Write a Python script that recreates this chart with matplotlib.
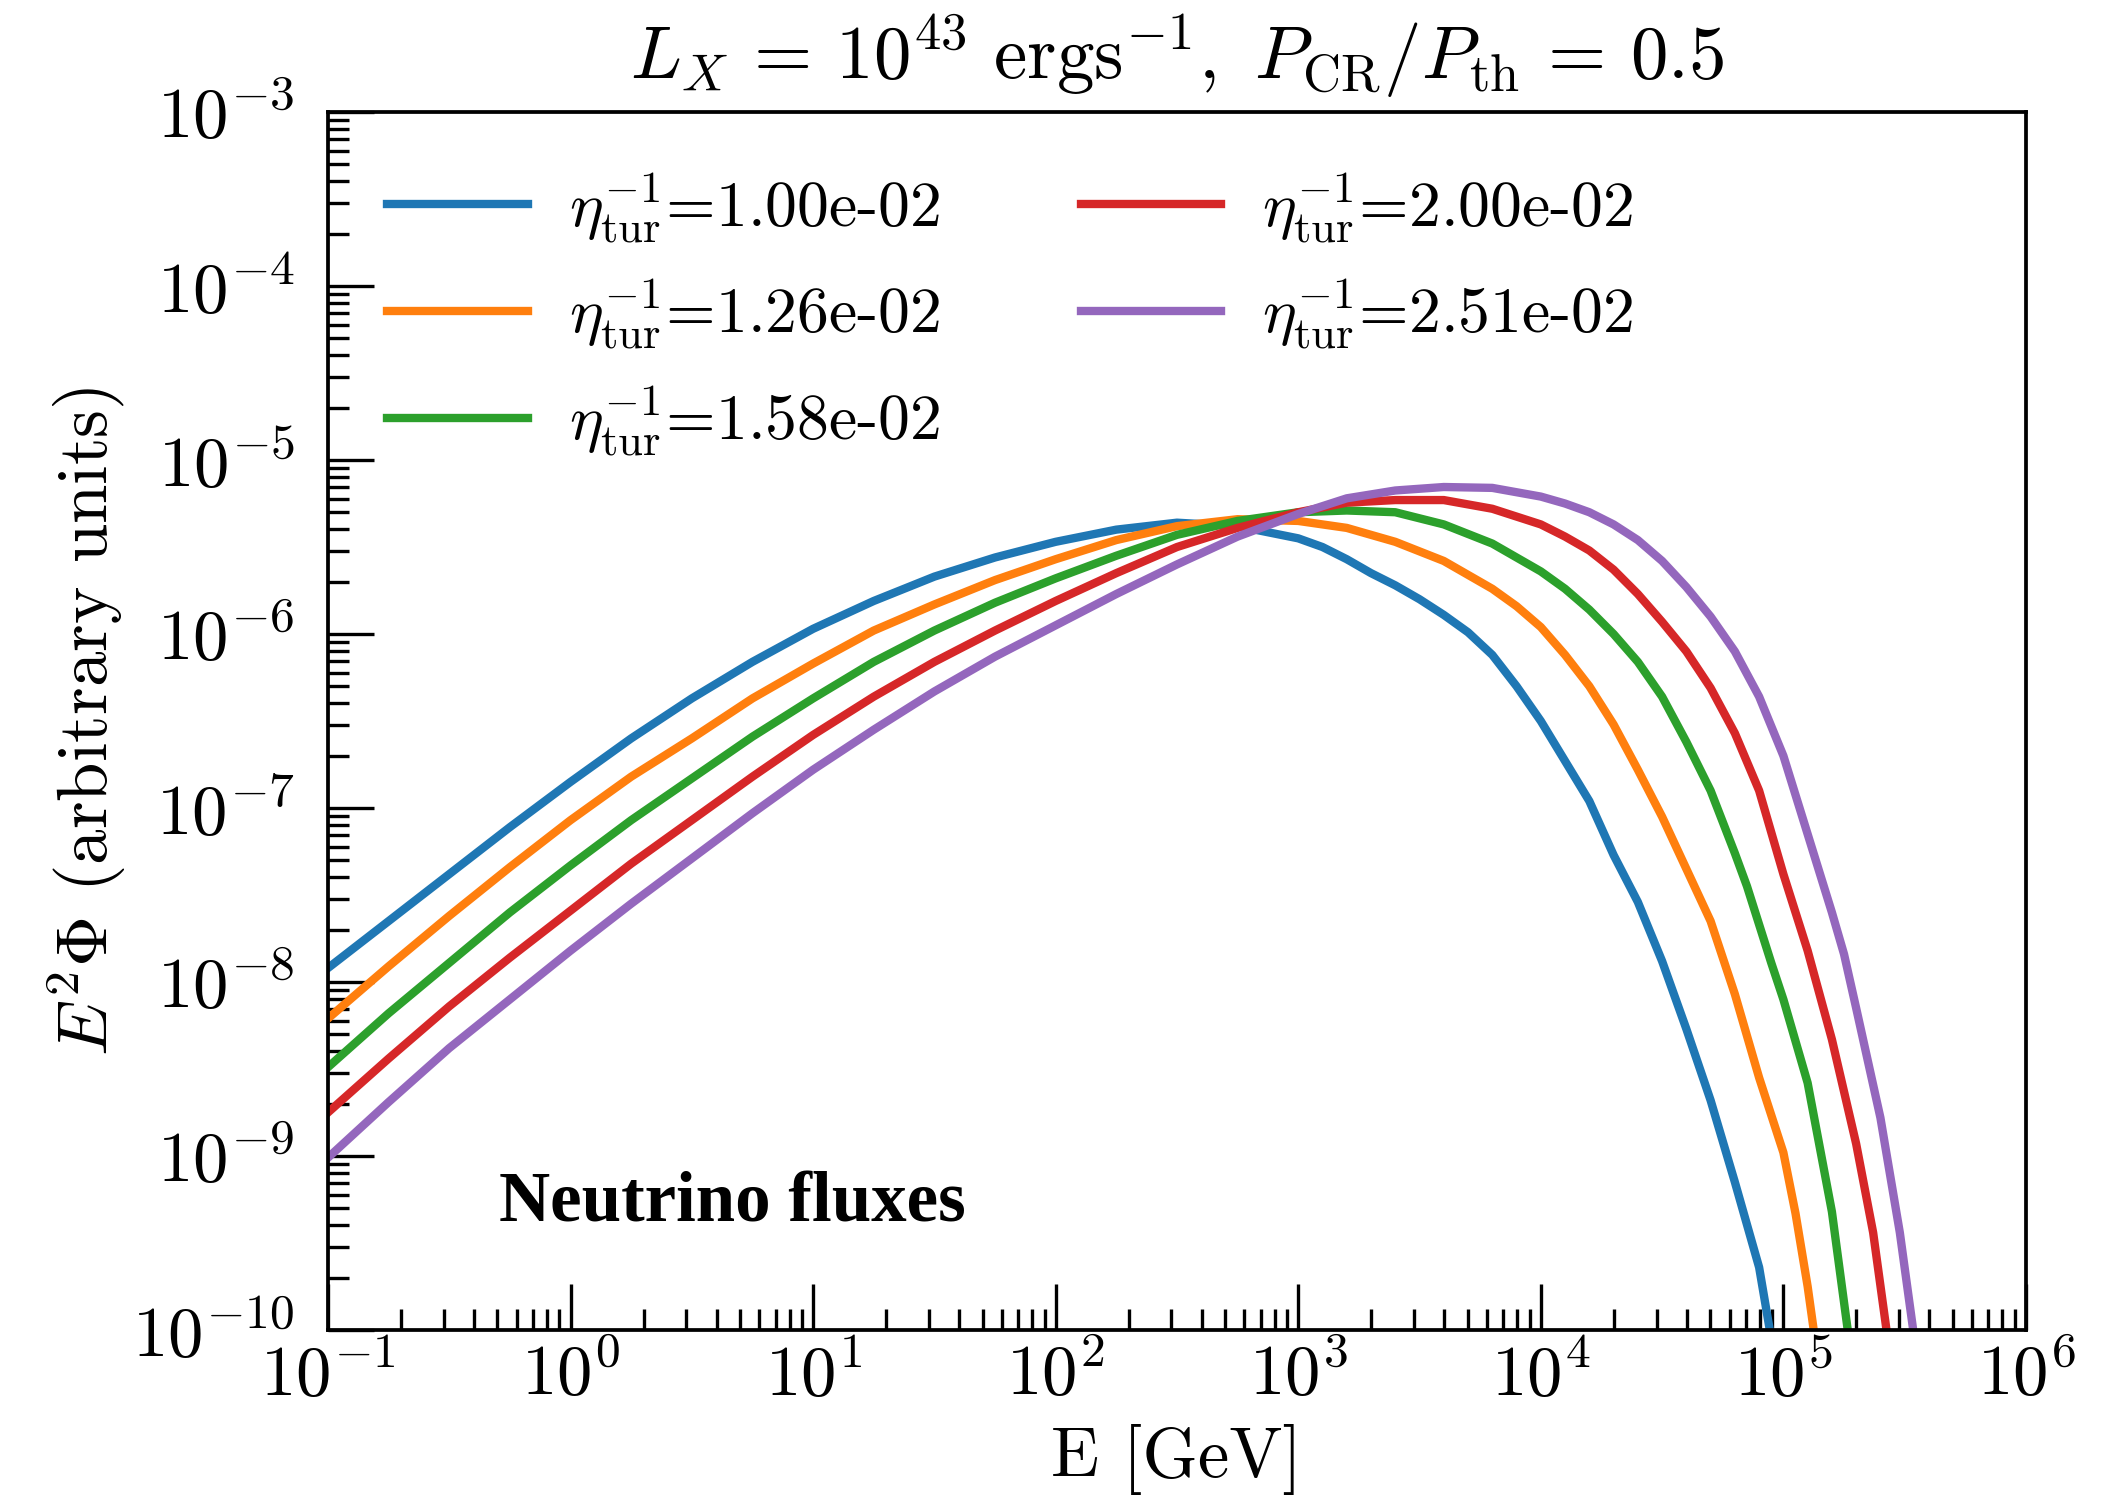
import numpy as np
import matplotlib
matplotlib.use("Agg")
import matplotlib.pyplot as plt

plt.rcParams['font.family'] = 'serif'
plt.rcParams['font.serif'] = ['cmr10']
plt.rcParams['mathtext.fontset'] = 'cm'
plt.rcParams['axes.formatter.use_mathtext'] = True
plt.rcParams['axes.unicode_minus'] = True

# log10(E/GeV) and log10(E^2 Phi) for each turbulence parameter
eta_inv = ['1.00e-02', '1.26e-02', '1.58e-02', '2.00e-02', '2.51e-02']
colors = ['#1f77b4', '#ff7f0e', '#2ca02c', '#d62728', '#9467bd']

# common grid for the rising part of the spectra
logE_low = [-1.0, -0.75, -0.5, -0.25, 0.0, 0.25, 0.5, 0.75, 1.0, 1.25, 1.5, 1.75,
            2.0, 2.25, 2.5, 2.75, 3.0]

logE_1 = logE_low + [3.1, 3.2, 3.3, 3.4, 3.5, 3.6, 3.7, 3.8, 3.9, 4.0, 4.1, 4.2,
                     4.3, 4.4, 4.5, 4.6, 4.7, 4.8, 4.9, 4.95]
logF_1 = [-7.92, -7.65, -7.38, -7.11, -6.85, -6.60, -6.37, -6.16, -5.97, -5.81,
          -5.67, -5.56, -5.47, -5.40, -5.36, -5.38, -5.45,
          -5.50, -5.57, -5.65, -5.72, -5.80, -5.89, -5.99, -6.12, -6.30, -6.50,
          -6.73, -6.96, -7.27, -7.54, -7.88, -8.27, -8.68, -9.15, -9.64, -10.05]

logE_2 = logE_low + [3.2, 3.4, 3.6, 3.8, 3.9, 4.0, 4.1, 4.2, 4.3, 4.4, 4.5, 4.6,
                     4.7, 4.8, 4.9, 5.0, 5.05, 5.1, 5.13]
logF_2 = [-8.21, -7.91, -7.62, -7.34, -7.07, -6.82, -6.60, -6.37, -6.17, -5.98,
          -5.83, -5.69, -5.57, -5.46, -5.38, -5.34, -5.35,
          -5.39, -5.47, -5.58, -5.74, -5.84, -5.96, -6.12, -6.30, -6.52, -6.78,
          -7.05, -7.35, -7.65, -8.07, -8.55, -8.98, -9.33, -9.75, -10.05]

logE_3 = logE_low + [3.2, 3.4, 3.6, 3.8, 4.0, 4.1, 4.2, 4.3, 4.4, 4.5, 4.6, 4.7,
                     4.8, 4.85, 4.9, 4.95, 5.0, 5.1, 5.2, 5.27]
logF_3 = [-8.49, -8.18, -7.89, -7.60, -7.33, -7.07, -6.83, -6.59, -6.37, -6.16,
          -5.98, -5.82, -5.68, -5.55, -5.43, -5.35, -5.30,
          -5.29, -5.30, -5.37, -5.48, -5.64, -5.74, -5.86, -6.00, -6.16, -6.36,
          -6.62, -6.90, -7.26, -7.45, -7.67, -7.89, -8.10, -8.58, -9.32, -10.05]

logE_4 = logE_low + [3.2, 3.4, 3.6, 3.8, 4.0, 4.1, 4.2, 4.3, 4.4, 4.5, 4.6, 4.7,
                     4.8, 4.9, 5.0, 5.1, 5.2, 5.3, 5.37, 5.43]
logF_4 = [-8.75, -8.44, -8.14, -7.86, -7.59, -7.32, -7.07, -6.82, -6.58, -6.36,
          -6.16, -5.98, -5.81, -5.65, -5.50, -5.39, -5.30,
          -5.245, -5.23, -5.23, -5.28, -5.37, -5.44, -5.52, -5.63, -5.77, -5.93,
          -6.10, -6.31, -6.57, -6.90, -7.38, -7.82, -8.33, -8.93, -9.44, -10.05]

logE_5 = logE_low + [3.2, 3.4, 3.6, 3.8, 4.0, 4.1, 4.2, 4.3, 4.4, 4.5, 4.6, 4.7,
                     4.8, 4.9, 5.0, 5.1, 5.2, 5.25, 5.3, 5.4, 5.48, 5.54]
logF_5 = [-9.01, -8.69, -8.38, -8.10, -7.82, -7.55, -7.29, -7.03, -6.78, -6.55,
          -6.33, -6.13, -5.95, -5.77, -5.60, -5.44, -5.31,
          -5.22, -5.175, -5.155, -5.16, -5.21, -5.25, -5.30, -5.37, -5.46, -5.58,
          -5.73, -5.90, -6.10, -6.36, -6.70, -7.15, -7.60, -7.84, -8.15, -8.78,
          -9.44, -10.05]

curves = [(logE_1, logF_1), (logE_2, logF_2), (logE_3, logF_3),
          (logE_4, logF_4), (logE_5, logF_5)]

fig = plt.figure(figsize=(2117 / 300, 1502 / 300), dpi=300)
ax = fig.add_axes([0.1549, 0.1145, 0.8021, 0.8109])

for (le, lf), lab, c in zip(curves, eta_inv, colors):
    ax.plot(10 ** np.array(le), 10 ** np.array(lf), color=c, lw=2.0,
            label=r'$\eta_{\rm tur}^{-1}$=' + lab)

ax.set_xscale('log')
ax.set_yscale('log')
ax.set_xlim(1e-1, 1e6)
ax.set_ylim(1e-10, 1e-3)
ax.xaxis.set_major_locator(matplotlib.ticker.LogLocator(base=10, numticks=20))
ax.yaxis.set_major_locator(matplotlib.ticker.LogLocator(base=10, numticks=20))
ax.xaxis.set_minor_locator(matplotlib.ticker.LogLocator(base=10, subs=np.arange(2, 10), numticks=20))
ax.yaxis.set_minor_locator(matplotlib.ticker.LogLocator(base=10, subs=np.arange(2, 10), numticks=20))
ax.tick_params(which='both', direction='in', top=False, right=False, labelsize=17, width=0.8)
ax.tick_params(which='major', length=11)
ax.tick_params(which='minor', length=5)
ax.tick_params(axis='y', which='major', pad=8)
ax.tick_params(axis='x', which='major', pad=3)
for s in ax.spines.values():
    s.set_linewidth(0.9)

ax.set_xlabel('E [GeV]', fontsize=17, labelpad=3.5)
ax.set_ylabel(r'$E^2\Phi$ (arbitrary units)', fontsize=17, labelpad=1)
ax.set_title(r'$L_X\,=\,10^{43}\ \mathrm{ergs}^{-1},\ P_{\rm CR}/P_{\rm th}\,=\,0.5$',
             fontsize=18, pad=8)

ax.legend(loc='upper left', bbox_to_anchor=(0.035, 0.952), ncol=2, frameon=False,
          fontsize=15.3, handlelength=2.2, handletextpad=0.65, columnspacing=2.2,
          labelspacing=0.5, borderpad=0, borderaxespad=0)

ax.text(0.101, 0.089, 'Neutrino fluxes', transform=ax.transAxes,
        fontsize=17, fontweight='bold', family='Liberation Serif')

fig.savefig('out.png', dpi=300)
